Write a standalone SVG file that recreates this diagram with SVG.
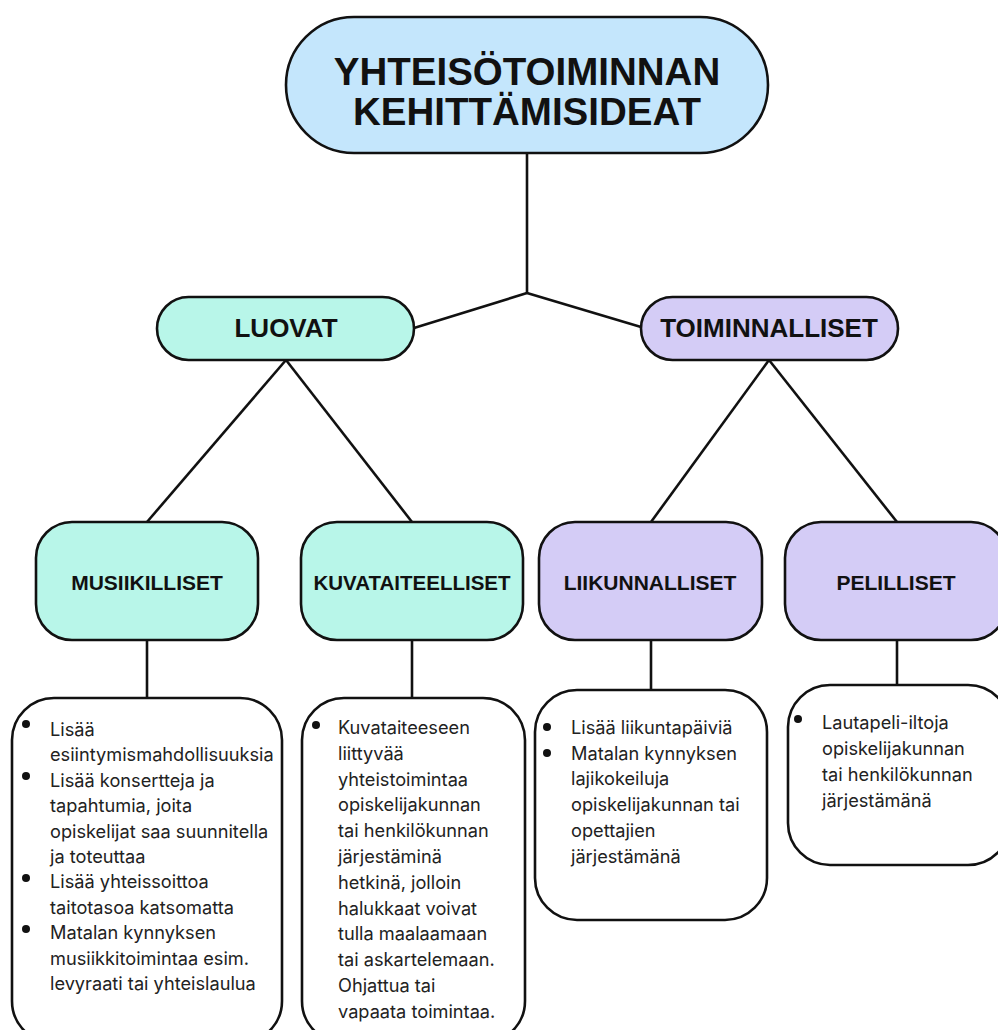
<svg xmlns="http://www.w3.org/2000/svg" width="998" height="1030" viewBox="0 0 998 1030">
<style>
.box{stroke:#111;stroke-width:2.6}
.root{fill:#c4e6fc}
.mint{fill:#b8f6e9}
.lav{fill:#d4ccf6}
.white{fill:#fff}
.h{font-family:"Liberation Sans",Arial,sans-serif;font-weight:bold;fill:#111;text-anchor:middle}
.t{font-family:Inter,"Noto Sans",sans-serif;font-size:18.2px;fill:#222}
.conn line{stroke:#111;stroke-width:2.6}
.b{fill:#111}
</style>
<rect width="998" height="1030" fill="#fff"/>
<g class="conn">
<line x1="527" y1="153" x2="527" y2="293"/>
<line x1="527" y1="293" x2="414" y2="328"/>
<line x1="527" y1="293" x2="641" y2="327"/>
<line x1="286" y1="360" x2="147" y2="522"/>
<line x1="286" y1="360" x2="412" y2="522"/>
<line x1="769" y1="360" x2="651" y2="522"/>
<line x1="769" y1="360" x2="897" y2="522"/>
<line x1="147" y1="640" x2="147" y2="698"/>
<line x1="412" y1="640" x2="412" y2="698"/>
<line x1="651" y1="640" x2="651" y2="690"/>
<line x1="897" y1="640" x2="897" y2="685"/>
</g>
<g id="root">
<rect class="box root" x="286" y="17" width="482" height="136" rx="68"/>
<text class="h" x="527" y="84.5" font-size="38.5">YHTEISÖTOIMINNAN</text>
<text class="h" x="527" y="124.5" font-size="38.5">KEHITTÄMISIDEAT</text>
</g>
<g id="luovat">
<rect class="box mint" x="157" y="297" width="257" height="63" rx="31.5"/>
<text class="h" x="286" y="337" font-size="26">LUOVAT</text>
</g>
<g id="toiminnalliset">
<rect class="box lav" x="641" y="297" width="257" height="63" rx="31.5"/>
<text class="h" x="769" y="337" font-size="26">TOIMINNALLISET</text>
</g>
<g id="musiikilliset">
<rect class="box mint" x="36" y="522" width="222" height="118" rx="36"/>
<text class="h" x="147" y="590" font-size="21">MUSIIKILLISET</text>
</g>
<g id="kuvataiteelliset">
<rect class="box mint" x="301" y="522" width="222" height="118" rx="36"/>
<text class="h" x="412" y="590" font-size="20.5">KUVATAITEELLISET</text>
</g>
<g id="liikunnalliset">
<rect class="box lav" x="539" y="522" width="223" height="118" rx="36"/>
<text class="h" x="650" y="590" font-size="21">LIIKUNNALLISET</text>
</g>
<g id="pelilliset">
<rect class="box lav" x="785" y="522" width="222" height="118" rx="36"/>
<text class="h" x="896" y="590" font-size="21">PELILLISET</text>
</g>
<g id="musiikki-ideat">
<rect class="box white" x="12" y="698" width="270" height="345" rx="42"/>
<circle class="b" cx="26" cy="724" r="4"/>
<circle class="b" cx="26" cy="776" r="4"/>
<circle class="b" cx="26" cy="878" r="4"/>
<circle class="b" cx="26" cy="929" r="4"/>
<text class="t">
<tspan x="50" y="736">Lisää</tspan>
<tspan x="50" y="761.4">esiintymismahdollisuuksia</tspan>
<tspan x="50" y="786.8">Lisää konsertteja ja</tspan>
<tspan x="50" y="812.2">tapahtumia, joita</tspan>
<tspan x="50" y="837.6">opiskelijat saa suunnitella</tspan>
<tspan x="50" y="863">ja toteuttaa</tspan>
<tspan x="50" y="888.4">Lisää yhteissoittoa</tspan>
<tspan x="50" y="913.8">taitotasoa katsomatta</tspan>
<tspan x="50" y="939.2">Matalan kynnyksen</tspan>
<tspan x="50" y="964.6">musiikkitoimintaa esim.</tspan>
<tspan x="50" y="990">levyraati tai yhteislaulua</tspan>
</text>
</g>
<g id="kuvataide-ideat">
<rect class="box white" x="302" y="698" width="223" height="345" rx="42"/>
<circle class="b" cx="316" cy="725" r="4"/>
<text class="t">
<tspan x="338" y="734">Kuvataiteeseen</tspan>
<tspan x="338" y="759.8">liittyvää</tspan>
<tspan x="338" y="785.6">yhteistoimintaa</tspan>
<tspan x="338" y="811.4">opiskelijakunnan</tspan>
<tspan x="338" y="837.2">tai henkilökunnan</tspan>
<tspan x="338" y="863">järjestäminä</tspan>
<tspan x="338" y="888.8">hetkinä, jolloin</tspan>
<tspan x="338" y="914.6">halukkaat voivat</tspan>
<tspan x="338" y="940.4">tulla maalaamaan</tspan>
<tspan x="338" y="966.2">tai askartelemaan.</tspan>
<tspan x="338" y="992">Ohjattua tai</tspan>
<tspan x="338" y="1017.8">vapaata toimintaa.</tspan>
</text>
</g>
<g id="liikunta-ideat">
<rect class="box white" x="535" y="690" width="232" height="230" rx="42"/>
<circle class="b" cx="547" cy="727" r="4"/>
<circle class="b" cx="547" cy="753" r="4"/>
<text class="t">
<tspan x="571" y="734">Lisää liikuntapäiviä</tspan>
<tspan x="571" y="759.7">Matalan kynnyksen</tspan>
<tspan x="571" y="785.4">lajikokeiluja</tspan>
<tspan x="571" y="811.1">opiskelijakunnan tai</tspan>
<tspan x="571" y="836.8">opettajien</tspan>
<tspan x="571" y="862.5">järjestämänä</tspan>
</text>
</g>
<g id="peli-ideat">
<rect class="box white" x="788" y="685" width="222" height="180" rx="42"/>
<circle class="b" cx="798" cy="719" r="4"/>
<text class="t">
<tspan x="822" y="729">Lautapeli-iltoja</tspan>
<tspan x="822" y="755">opiskelijakunnan</tspan>
<tspan x="822" y="781">tai henkilökunnan</tspan>
<tspan x="822" y="807">järjestämänä</tspan>
</text>
</g>
</svg>
